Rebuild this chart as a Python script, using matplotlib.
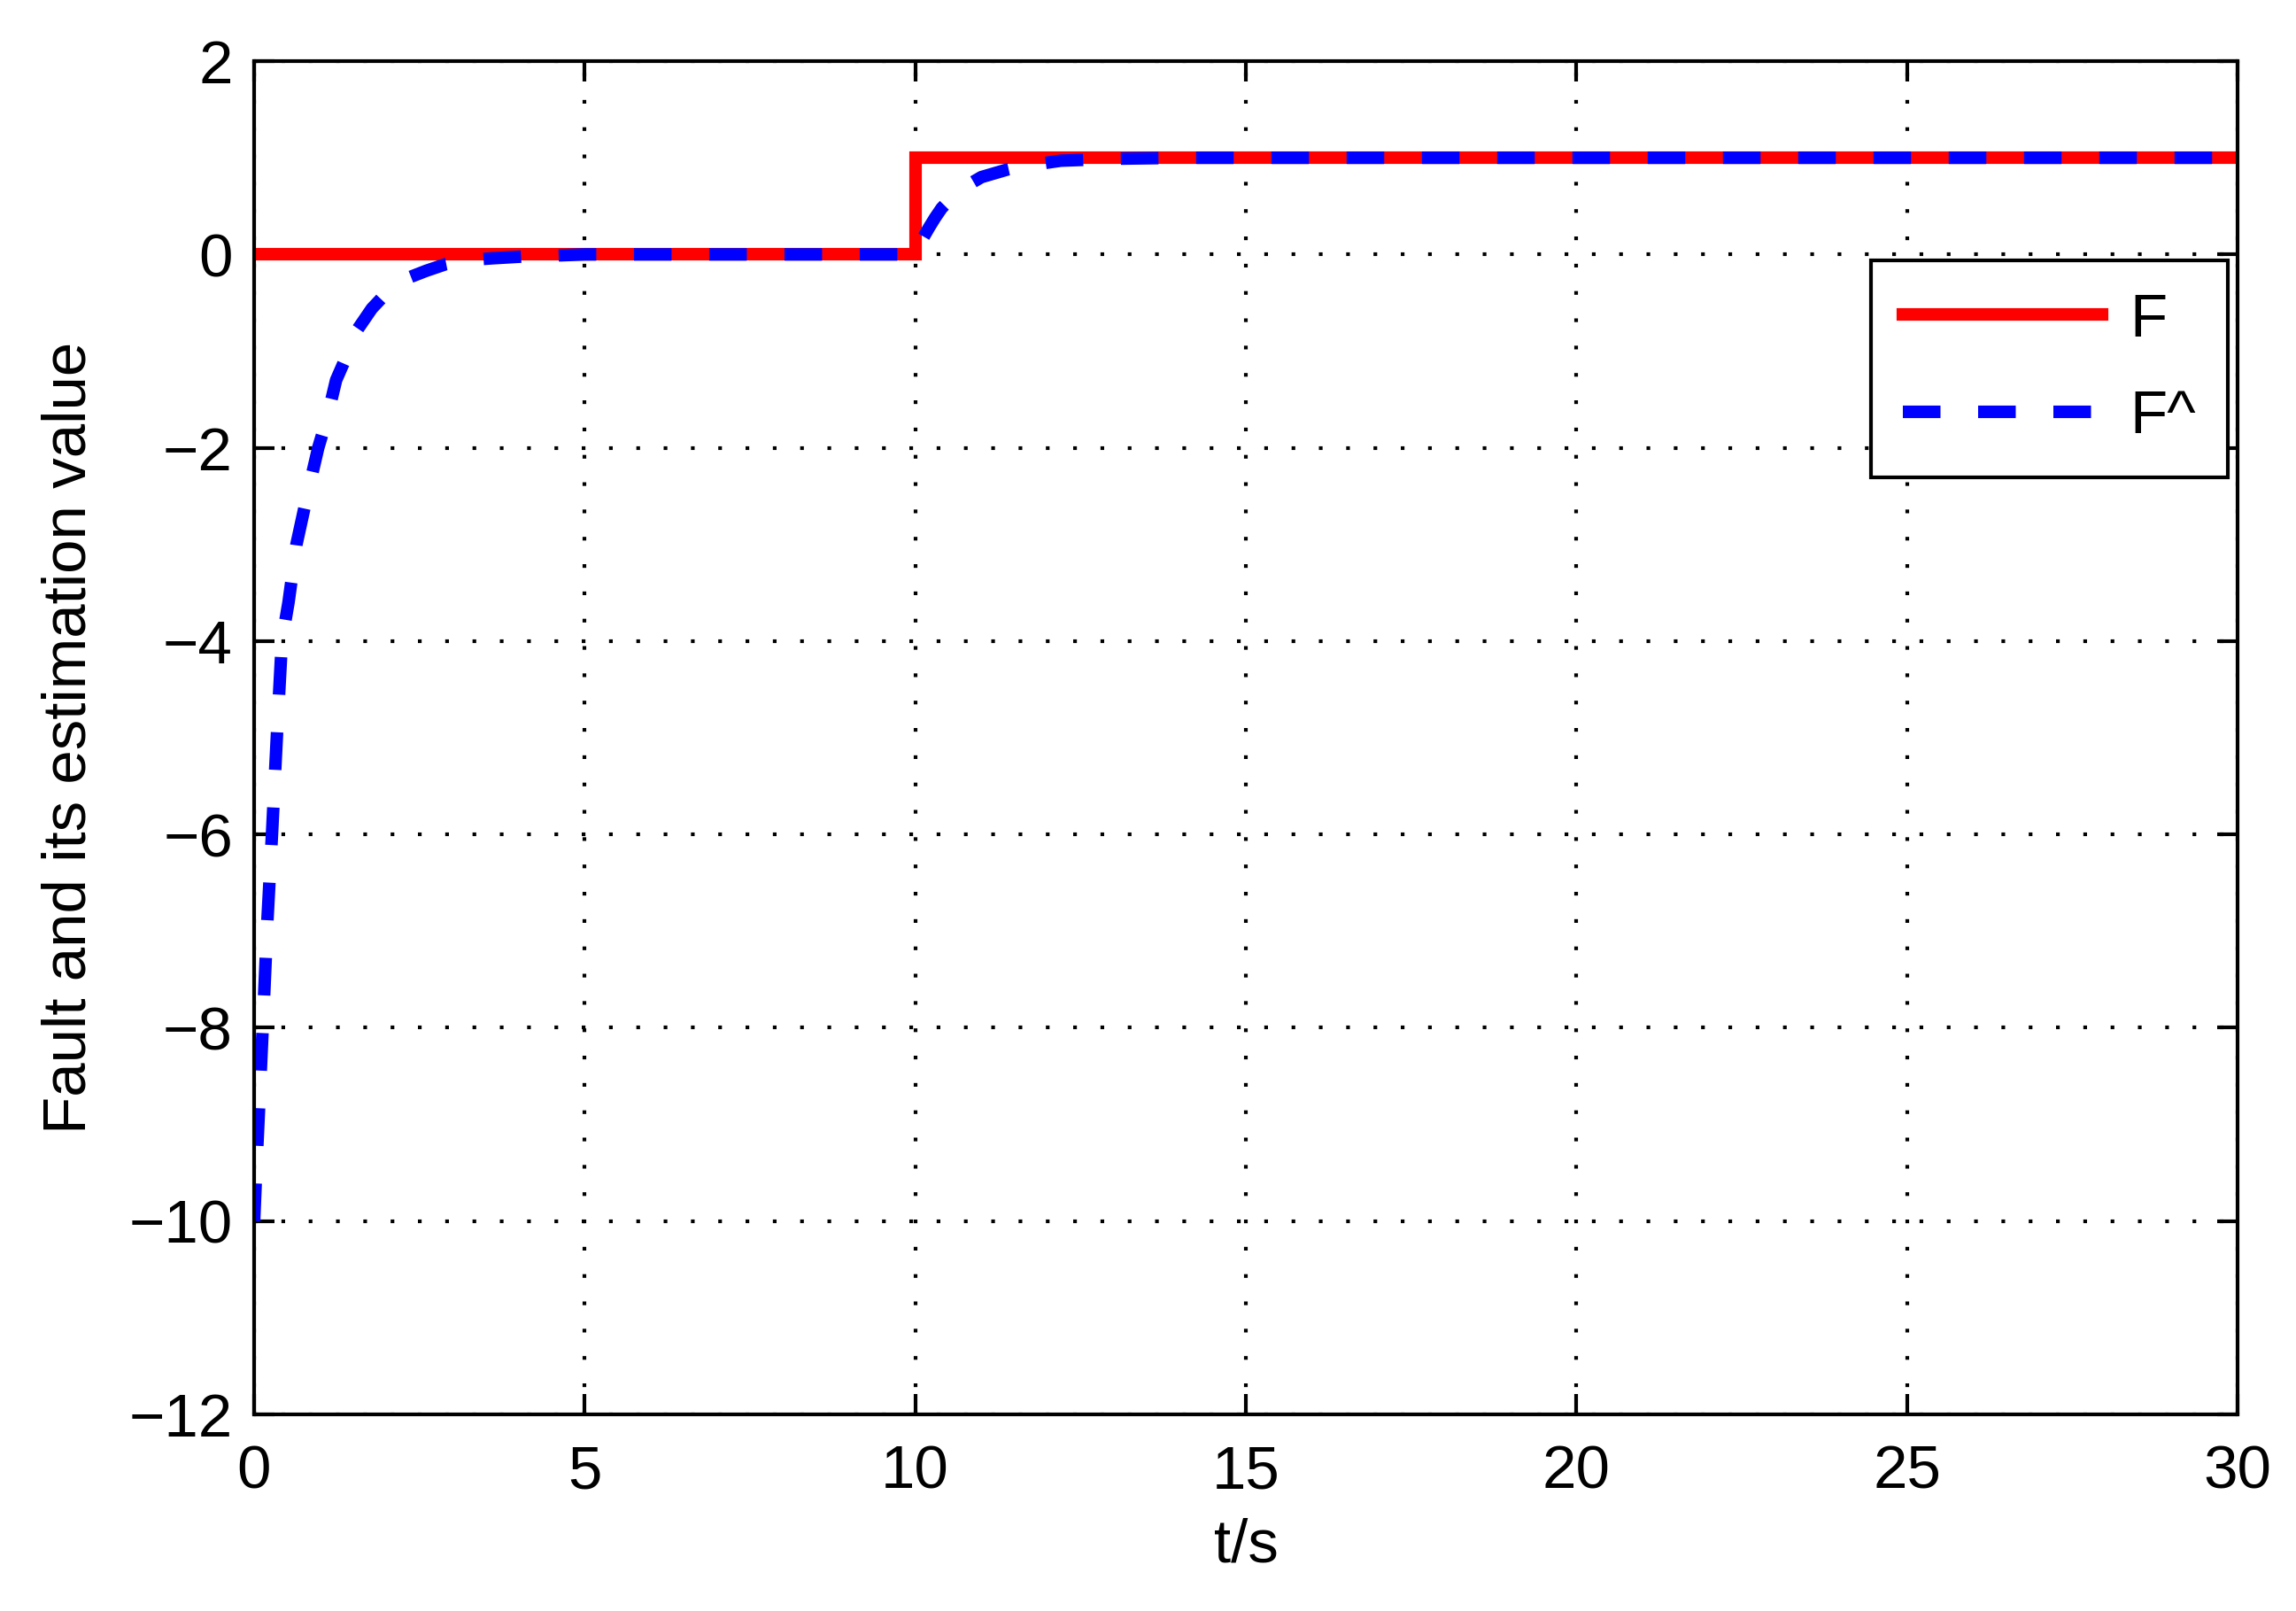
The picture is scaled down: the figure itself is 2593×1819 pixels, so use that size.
import numpy as np
import matplotlib
matplotlib.use('Agg')
import matplotlib.pyplot as plt

plt.rcParams['font.family'] = ['Liberation Sans', 'DejaVu Sans']

# fault signal F (step at t = 10 s)
t_fault = [0, 10, 10, 30]
f_fault = [0, 0, 1, 1]

# estimated fault F^
t_est = [0, 0.03, 0.07, 0.13, 0.2, 0.27, 0.35, 0.42, 0.52, 0.64, 0.8, 0.97, 1.1, 1.24,
         1.4, 1.57, 1.78, 2.0, 2.3, 2.6, 2.9, 3.2, 3.6, 4.1, 4.6, 5.0, 10.0,
         10.05, 10.1, 10.21, 10.3, 10.4, 10.5, 10.6, 10.7, 10.8, 11.0, 11.2, 11.4,
         11.6, 11.8, 12.2, 12.6, 13.0, 14.0, 30.0]
f_est = [-10, -9.5, -8.9, -8.0, -6.9, -6.0, -4.9, -4.0, -3.6, -3.0, -2.5, -2.0, -1.7, -1.3,
         -1.05, -0.77, -0.56, -0.4, -0.25, -0.17, -0.1, -0.06, -0.04, -0.02, -0.01, 0.0, 0.0,
         0.08, 0.15, 0.28, 0.38, 0.48, 0.55, 0.62, 0.68, 0.72, 0.8, 0.84, 0.88,
         0.91, 0.93, 0.97, 0.98, 0.99, 1.0, 1.0]

xticks = [0, 5, 10, 15, 20, 25, 30]
yticks = [-12, -10, -8, -6, -4, -2, 0, 2]

fs = 16.6

fig = plt.figure(figsize=(2593 / 300, 1819 / 300), dpi=300)
ax = fig.add_axes([287 / 2593, 1 - 1597 / 1819, 2240 / 2593, 1528 / 1819])

ax.plot(t_fault, f_fault, '-', color='#ff0000', lw=3.4, label='F', solid_joinstyle='miter')
ax.plot(t_est, f_est, '--', color='#0000ff', lw=3.4, dashes=(3.0, 3.0), label='F^')

ax.set_xlim(0, 30)
ax.set_ylim(-12, 2)
ax.set_xticks(xticks)
ax.set_yticks(yticks)
ax.set_yticklabels(['\u221212', '\u221210', '\u22128', '\u22126', '\u22124', '\u22122', '0', '2'])

ax.grid(True, color='black', linestyle=(0, (1, 6.4)), linewidth=1.0)
ax.tick_params(direction='in', length=5.6, width=1.0, top=True, right=True, labelsize=fs)
ax.tick_params(axis='x', pad=8)
ax.tick_params(axis='y', pad=5.8)
for s in ax.spines.values():
    s.set_linewidth(1.0)

ax.set_xlabel('t/s', fontsize=fs)
ax.set_ylabel('Fault and its estimation value', fontsize=fs)
ax.xaxis.set_label_coords(0.5, -0.0765)
ax.yaxis.set_label_coords(-0.079, 0.5)

leg = ax.legend(loc='upper right', bbox_to_anchor=(0.995, 0.853),
                fontsize=fs, handlelength=3.25, handletextpad=0.45, labelspacing=0.66,
                borderpad=0.52, borderaxespad=0, fancybox=False, framealpha=1)
leg.get_frame().set_edgecolor('black')
leg.get_frame().set_linewidth(1.0)

fig.savefig('out.png', dpi=300)
